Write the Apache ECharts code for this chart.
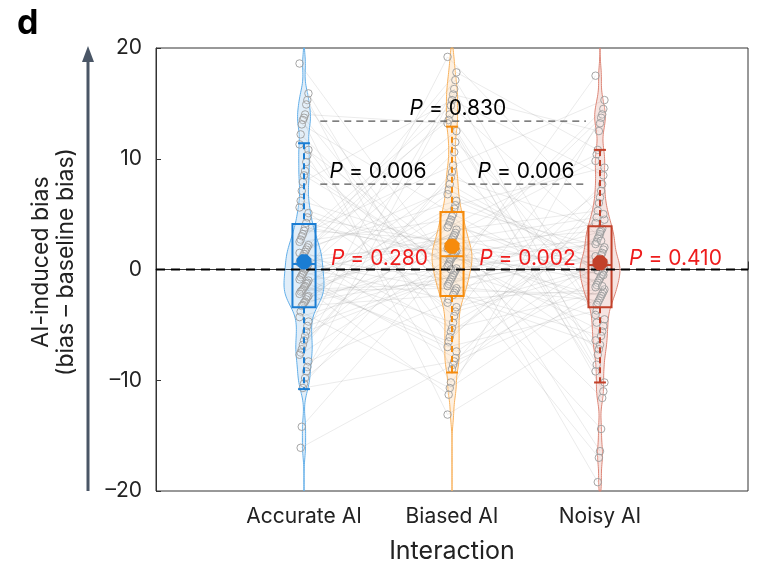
<!DOCTYPE html>
<html>
<head>
<meta charset="utf-8">
<script src="https://cdn.jsdelivr.net/npm/echarts@6/dist/echarts.min.js"></script>
<style>html,body{margin:0;padding:0;background:#fff;}#chart{width:784px;height:584px;}</style>
</head>
<body>
<div id="chart"></div>
<script>
// ---------- data ----------
const categories = ['Accurate AI', 'Biased AI', 'Noisy AI'];
const accurate = [18.6, 15.9, 15.3, 14.9, 14.0, 13.7, 13.5, 13.1, 12.2, 11.3, 10.8, 10.3, 9.7, 8.9, 8.5, 7.9, 7.1, 6.2, 5.6, 5.1, 4.7, 4.2,
  3.8, 3.5, 3.2, 3.0, 2.7, 2.5, 2.2, 2.0, 1.8, 1.6, 1.4, 1.2, 1.0, 0.8, 0.6, 0.5, 0.3, 0.1, 0.0, -0.2, -0.4, -0.5, -0.7, -0.9, -1.0,
  -1.2, -1.3, -1.5, -1.6, -1.8, -1.9, -2.0, -2.2, -2.4, -2.5, -2.7, -2.9, -3.0, -3.2, -3.3,
  -3.8, -4.3, -4.7, -5.1, -5.6, -6.0, -6.4, -6.8, -7.2, -7.5, -7.7, -8.3, -8.8, -9.2, -9.8, -10.3, -10.7, -14.2, -16.1, 1.5];
const biased = [19.2, 17.8, 17.1, 16.3, 15.8, 15.3, 14.8, 14.0, 13.5, 13.2, 12.5, 11.5, 10.6, 9.4, 8.8, 8.3, 7.7, 7.2, 6.8, 6.2, 5.8, 5.5,
  5.0, 4.8, 4.5, 4.3, 4.0, 3.8, 3.6, 3.3, 3.1, 2.9, 2.7, 2.5, 2.3, 2.1, 1.9, 1.7, 1.5, 1.3, 1.2, 1.1, 0.9, 0.7, 0.5, 0.3, 0.1,
  -0.1, -0.3, -0.5, -0.7, -0.9, -1.1, -1.3, -1.5, -1.7, -1.9, -2.1, -2.3, 2.0, 0.0, 1.0,
  -2.7, -3.0, -3.4, -3.8, -4.2, -4.8, -5.3, -5.6, -6.1, -6.5, -7.0, -7.4, -8.0, -8.3, -8.6, -9.0, -10.2, -10.7, -11.3, -13.1];
const noisy = [17.5, 15.3, 14.5, 14.0, 13.7, 13.2, 12.5, 10.8, 10.4, 9.8, 9.2, 8.5, 7.7, 7.1, 6.5, 6.0, 5.3, 4.7, 4.2, 4.5, 5.0,
  3.7, 3.5, 3.2, 3.0, 2.8, 2.5, 2.3, 2.0, 1.8, 1.5, 1.3, 1.0, 0.8, 0.6, 0.4, 0.2, 0.0, -0.2, -0.4, -0.6, -0.8, -1.0, -1.2, -1.4,
  -1.6, -1.8, -2.0, -2.2, -2.4, -2.6, -2.8, -3.0, -3.2, 1.2, 0.5, -0.5, -1.5, 2.6, 3.4, 0.3, -0.1,
  -3.7, -4.1, -4.5, -5.1, -5.6, -6.0, -6.8, -7.2, -7.7, -8.6, -9.2, -10.2, -11.0, -11.6, -14.4, -16.4, -17.0, -19.2, -4.8, -6.4];
const q1 = [-3.4, -2.4, -3.4];
const medians = [0.5, 1.2, 0.4];
const q3 = [4.1, 5.2, 3.9];
const whiskerLow = [-10.8, -9.3, -10.2];
const whiskerHigh = [11.4, 12.9, 10.8];
const means = [0.7, 2.1, 0.6];
const yTicks = [-20, -10, 0, 10, 20];
const pVsZero = ['0.280', '0.002', '0.410'];
const pPairs = [['Accurate AI', 'Biased AI', '0.006'], ['Biased AI', 'Noisy AI', '0.006'], ['Accurate AI', 'Noisy AI', '0.830']];

// ---------- styling ----------
const FONT = 'Inter, "Noto Sans", sans-serif';
const colors = ['#1a7dd3', '#f68b0c', '#c2412a'];
const violinFill = ['rgba(26,125,211,0.13)', 'rgba(246,139,12,0.13)', 'rgba(194,65,42,0.14)'];
const violinStroke = ['#62aee8', '#f8b25e', '#dc8576'];
const groups = [accurate, biased, noisy];
const N = accurate.length;

function jit(i) { return (((i * 17) % 9) - 4) * 0.0075; }
// deterministic participant pairing order (hash based)
function hash(i, s) {
  let x = (Math.imul(i + 1, 2654435761) ^ Math.imul(s + 7, 2246822519)) >>> 0;
  x ^= x >>> 15; x = Math.imul(x, 2246822519) >>> 0; x ^= x >>> 13; x = Math.imul(x, 3266489917) >>> 0; x ^= x >>> 16;
  return x >>> 0;
}
function order(s) { return [...Array(N).keys()].sort((a, b) => hash(a, s) - hash(b, s)); }
const ordA = order(1), ordB = order(2), ordN = order(3);

const bw = 0.95, halfW = 0.135;
function kde(vals, y) { let s = 0; for (const v of vals) { const z = (y - v) / bw; s += Math.exp(-0.5 * z * z); } return s; }
const violinPts = groups.map(vals => {
  const arr = []; let mx = 0;
  for (let y = -20; y <= 20.0001; y += 0.2) { const d = kde(vals, y); arr.push([y, d]); if (d > mx) mx = d; }
  return arr.map(p => [p[0], p[1] / mx * halfW]);
});

const chart = echarts.init(document.getElementById('chart'));

const series = [];
// paired lines
series.push({
  type: 'custom', z: 1, silent: true,
  data: accurate.map((_, i) => [i]),
  renderItem(params, api) {
    const k = params.dataIndex;
    const ia = ordA[k], ib = ordB[k], inn = ordN[k];
    const pts = [api.coord([1 + jit(ia), accurate[ia]]), api.coord([2 + jit(ib), biased[ib]]), api.coord([3 + jit(inn), noisy[inn]])];
    return { type: 'polyline', shape: { points: pts }, style: { stroke: 'rgba(150,150,150,0.24)', lineWidth: 0.8, fill: null } };
  }
});
// violins
series.push({
  type: 'custom', z: 2, silent: true,
  data: [[1], [2], [3]],
  renderItem(params, api) {
    const g = params.dataIndex, cx = g + 1;
    const right = violinPts[g].map(p => api.coord([cx + p[1], p[0]]));
    const left = violinPts[g].map(p => api.coord([cx - p[1], p[0]])).reverse();
    return { type: 'polygon', shape: { points: right.concat(left) }, style: { fill: violinFill[g], stroke: violinStroke[g], lineWidth: 1 } };
  }
});
// points
groups.forEach((vals, g) => {
  series.push({
    type: 'scatter', z: 3, silent: true, symbol: 'circle', symbolSize: 7.5,
    data: vals.map((v, i) => [g + 1 + jit(i), v]),
    itemStyle: { color: 'rgba(255,255,255,0.15)', borderColor: '#9c9c9c', borderWidth: 0.9, opacity: 1 }
  });
});
// boxes + whiskers
series.push({
  type: 'custom', z: 4, silent: true,
  data: [[1], [2], [3]],
  renderItem(params, api) {
    const g = params.dataIndex, cx = g + 1, bh = 0.078, ch = 0.04;
    const c = colors[g];
    const tl = api.coord([cx - bh, q3[g]]), br = api.coord([cx + bh, q1[g]]);
    const mL = api.coord([cx - bh, medians[g]]), mR = api.coord([cx + bh, medians[g]]);
    const wt = api.coord([cx, whiskerHigh[g]]), wb = api.coord([cx, whiskerLow[g]]);
    const bt = api.coord([cx, q3[g]]), bb = api.coord([cx, q1[g]]);
    const capT1 = api.coord([cx - ch, whiskerHigh[g]]), capT2 = api.coord([cx + ch, whiskerHigh[g]]);
    const capB1 = api.coord([cx - ch, whiskerLow[g]]), capB2 = api.coord([cx + ch, whiskerLow[g]]);
    return {
      type: 'group', children: [
        { type: 'line', shape: { x1: wt[0], y1: wt[1], x2: bt[0], y2: bt[1] }, style: { stroke: c, lineWidth: 2, lineDash: [6, 4] } },
        { type: 'line', shape: { x1: bb[0], y1: bb[1], x2: wb[0], y2: wb[1] }, style: { stroke: c, lineWidth: 2, lineDash: [6, 4] } },
        { type: 'line', shape: { x1: capT1[0], y1: capT1[1], x2: capT2[0], y2: capT2[1] }, style: { stroke: c, lineWidth: 2 } },
        { type: 'line', shape: { x1: capB1[0], y1: capB1[1], x2: capB2[0], y2: capB2[1] }, style: { stroke: c, lineWidth: 2 } },
        { type: 'rect', shape: { x: tl[0], y: tl[1], width: br[0] - tl[0], height: br[1] - tl[1] }, style: { fill: null, stroke: c, lineWidth: 2 } },
        { type: 'line', shape: { x1: mL[0], y1: mL[1], x2: mR[0], y2: mR[1] }, style: { stroke: c, lineWidth: 2 } }
      ]
    };
  }
});
// zero reference line (drawn through the axis scale)
series.push({
  type: 'custom', z: 5, silent: true,
  data: [[0]],
  renderItem(params, api) {
    const a = api.coord([0, 0]), b = api.coord([4, 0]);
    return { type: 'line', shape: { x1: a[0], y1: a[1], x2: b[0], y2: b[1] }, style: { stroke: '#000', lineWidth: 2.2, lineDash: [9, 6] } };
  }
});
// comparison lines
const catIndex = n => categories.indexOf(n) + 1;
const pairLevels = [7.7, 7.7, 13.4];
series.push({
  type: 'custom', z: 5, silent: true,
  data: pPairs.map((p, k) => [k]),
  renderItem(params, api) {
    const k = params.dataIndex, p = pPairs[k];
    const x1 = catIndex(p[0]) + 0.11, x2 = catIndex(p[1]) - (k === 2 ? 0.095 : 0.1);
    const a = api.coord([x1, pairLevels[k]]), b = api.coord([x2, pairLevels[k]]);
    return { type: 'line', shape: { x1: a[0], y1: a[1], x2: b[0], y2: b[1] }, style: { stroke: '#555', lineWidth: 1.2, lineDash: [7, 5] } };
  }
});
// means
series.push({
  type: 'scatter', z: 6, silent: true,
  symbol: 'path://M30,0 L70,0 L100,30 L100,70 L70,100 L30,100 L0,70 L0,30 Z', symbolSize: [15, 15],
  itemStyle: { opacity: 1 },
  data: means.map((m, g) => ({ value: [g + 1, m], itemStyle: { color: colors[g] } }))
});
// annotations
const annoData = [];
pVsZero.forEach((p, g) => annoData.push({ pos: [g + 1.51, 0.95], color: '#ee1c1c', text: p }));
pPairs.forEach((p, k) => {
  const a = catIndex(p[0]), b = catIndex(p[1]);
  annoData.push({ pos: [(a + b) / 2 + (k === 2 ? 0.04 : 0.0), pairLevels[k] + (k === 2 ? 1.15 : 1.1)], color: '#000', text: p[2] });
});
series.push({
  type: 'custom', z: 7, silent: true,
  data: annoData.map((d, i) => [i]),
  renderItem(params, api) {
    const d = annoData[params.dataIndex];
    const p = api.coord(d.pos);
    return {
      type: 'text', x: p[0], y: p[1],
      style: {
        text: '{i|P}{n| = ' + d.text + '}', align: 'center', verticalAlign: 'middle',
        rich: {
          i: { fontStyle: 'italic', fontSize: 21, fontFamily: FONT, fill: d.color },
          n: { fontSize: 21, fontFamily: FONT, fill: d.color }
        }
      }
    };
  }
});

const option = {
  animation: false,
  grid: { left: 156, right: 36, top: 48, bottom: 93, show: true, borderColor: '#333', borderWidth: 1 },
  xAxis: {
    type: 'value', min: 0, max: 4, interval: 1,
    name: 'Interaction', nameLocation: 'middle', nameGap: 48,
    nameTextStyle: { fontSize: 25, fontFamily: FONT, color: '#222' },
    axisLine: { lineStyle: { color: '#333' } },
    axisTick: { inside: true, length: 8, lineStyle: { color: '#333' } },
    axisLabel: { fontSize: 21, fontFamily: FONT, color: '#222', margin: 15, formatter: v => categories[v - 1] || '' },
    splitLine: { show: false }
  },
  yAxis: {
    type: 'value', min: yTicks[0], max: yTicks[yTicks.length - 1], interval: 10,
    axisLine: { show: true, lineStyle: { color: '#333' } },
    axisTick: { inside: true, length: 5, lineStyle: { color: '#333' } },
    axisLabel: { fontSize: 21, fontFamily: FONT, color: '#222', margin: 14, formatter: v => String(v).replace('-', '–') },
    splitLine: { show: false }
  },
  graphic: [
    { type: 'text', left: 17, top: 7, style: { text: 'd', font: 'bold 34px ' + FONT, fill: '#000' } },
    { type: 'line', shape: { x1: 88, y1: 491, x2: 88, y2: 58 }, style: { stroke: '#4a5666', lineWidth: 3 } },
    { type: 'polygon', shape: { points: [[88, 46], [82, 62], [94, 62]] }, style: { fill: '#4a5666' } },
    { type: 'text', x: 54, y: 262, rotation: Math.PI / 2,
      style: { text: 'AI-induced bias\n(bias – baseline bias)', font: '23px ' + FONT, fill: '#222', align: 'center', verticalAlign: 'middle', lineHeight: 25 } }
  ],
  series
};
chart.setOption(option);
</script>
</body>
</html>
